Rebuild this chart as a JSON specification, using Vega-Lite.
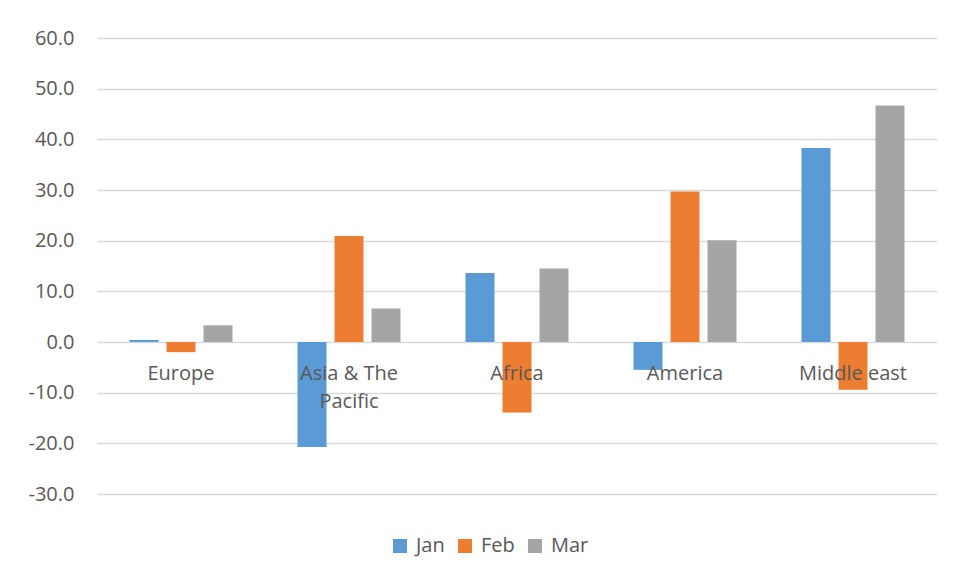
{
  "$schema": "https://vega.github.io/schema/vega-lite/v6.json",
  "autosize": "none",
  "width": 840,
  "height": 456,
  "padding": {"left": 97, "top": 38, "right": 20, "bottom": 87},
  "background": "white",
  "config": {
    "font": "Open Sans",
    "view": {"stroke": null},
    "axis": {"labelFont": "Open Sans", "labelColor": "#595959", "labelFontSize": 20}
  },
  "datasets": {
    "bars": [
      {"region": "Europe", "month": "Jan", "value": 0.4},
      {"region": "Europe", "month": "Feb", "value": -2.0},
      {"region": "Europe", "month": "Mar", "value": 3.3},
      {"region": "Asia & The Pacific", "month": "Jan", "value": -20.7},
      {"region": "Asia & The Pacific", "month": "Feb", "value": 20.9},
      {"region": "Asia & The Pacific", "month": "Mar", "value": 6.6},
      {"region": "Africa", "month": "Jan", "value": 13.6},
      {"region": "Africa", "month": "Feb", "value": -13.9},
      {"region": "Africa", "month": "Mar", "value": 14.5},
      {"region": "America", "month": "Jan", "value": -5.5},
      {"region": "America", "month": "Feb", "value": 29.7},
      {"region": "America", "month": "Mar", "value": 20.1},
      {"region": "Middle east", "month": "Jan", "value": 38.3},
      {"region": "Middle east", "month": "Feb", "value": -9.4},
      {"region": "Middle east", "month": "Mar", "value": 46.7}
    ],
    "labels": [
      {"region": "Europe", "label": "Europe"},
      {"region": "Asia & The Pacific", "label": "Asia & The\nPacific"},
      {"region": "Africa", "label": "Africa"},
      {"region": "America", "label": "America"},
      {"region": "Middle east", "label": "Middle east"}
    ]
  },
  "layer": [
    {
      "data": {"name": "bars"},
      "mark": {"type": "bar"},
      "encoding": {
        "x": {
          "field": "region",
          "type": "nominal",
          "scale": {
            "domain": ["Europe", "Asia & The Pacific", "Africa", "America", "Middle east"],
            "paddingInner": 0.387,
            "paddingOuter": 0.1935
          },
          "axis": null
        },
        "xOffset": {
          "field": "month",
          "type": "nominal",
          "scale": {"domain": ["Jan", "Feb", "Mar"], "paddingInner": 0.216, "paddingOuter": 0}
        },
        "y": {
          "field": "value",
          "type": "quantitative",
          "scale": {"domain": [-30, 60], "nice": false, "zero": false},
          "axis": {
            "title": null,
            "values": [-30, -20, -10, 0, 10, 20, 30, 40, 50, 60],
            "labelExpr": "datum.value < 0 ? '-' + format(-datum.value, '.1f') : format(datum.value, '.1f')",
            "domain": false,
            "ticks": false,
            "labelPadding": 23,
            "gridColor": "#d9d9d9",
            "gridWidth": 1.3
          }
        },
        "color": {
          "field": "month",
          "type": "nominal",
          "scale": {"domain": ["Jan", "Feb", "Mar"], "range": ["#5B9BD5", "#ED7D31", "#A5A5A5"]},
          "legend": {
            "title": null,
            "orient": "none",
            "direction": "horizontal",
            "legendX": 293,
            "legendY": 498,
            "symbolType": "square",
            "symbolSize": 196,
            "symbolStrokeWidth": 0,
            "labelFontSize": 20,
            "labelFont": "Open Sans",
            "labelColor": "#595959",
            "labelOffset": 6,
            "columnPadding": 10,
            "padding": 0
          }
        }
      }
    },
    {
      "data": {"name": "labels"},
      "mark": {
        "type": "text",
        "baseline": "alphabetic",
        "align": "center",
        "dy": 38,
        "fontSize": 20,
        "font": "Open Sans",
        "color": "#595959",
        "lineBreak": "\n",
        "lineHeight": 28
      },
      "encoding": {
        "x": {"field": "region", "type": "nominal", "bandPosition": 0.5},
        "y": {"datum": 0},
        "text": {"field": "label"}
      }
    }
  ]
}
